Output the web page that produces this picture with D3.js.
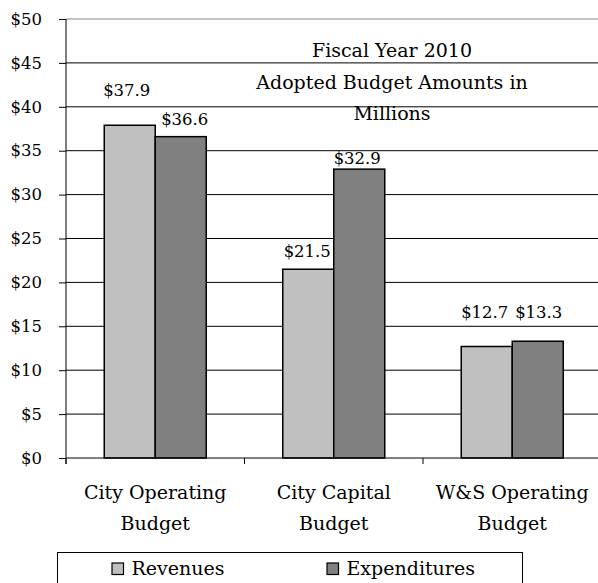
<!DOCTYPE html>
<html>
<head>
<meta charset="utf-8">
<script src="https://cdn.jsdelivr.net/npm/d3@7"></script>
<style>
body { margin: 0; background: #fff; }
text { font-family: 'DejaVu Serif', serif; font-size: 19px; fill: #000; }
text.val, .tick text { font-size: 16.5px; }
</style>
</head>
<body>
<div id="chart"></div>
<script>
var categories = ['City Operating Budget', 'City Capital Budget', 'W&S Operating Budget'];
var categoryLines = [['City Operating', 'Budget'], ['City Capital', 'Budget'], ['W&S Operating', 'Budget']];
var seriesNames = ['Revenues', 'Expenditures'];
var revenues = [37.9, 21.5, 12.7];
var expenditures = [36.6, 32.9, 13.3];
var yTicks = [0, 5, 10, 15, 20, 25, 30, 35, 40, 45, 50];
var titleLines = ['Fiscal Year 2010', 'Adopted Budget Amounts in', 'Millions'];

var colors = ['#c0c0c0', '#808080'];
// label gaps above bar tops (excel shuffled some of them)
var labelGap = [[29, 12], [12, 5], [28, 23]];
var labelShift = [[-3, 4], [-1, -2], [-2, 1]];

var w = 598; var h = 583;
var plotL = 66, plotR = 601.5, plotT = 19, plotB = 458;

var svg = d3.select('#chart')
			.append('svg')
			.attr('width', w)
			.attr('height', h);

var x = d3.scaleBand()
			.domain(categories)
			.range([plotL, plotR]);

var xSub = d3.scaleBand()
			.domain(seriesNames)
			.range([0, x.bandwidth()])
			.paddingInner(0)
			.paddingOuter(0.75);

var y = d3.scaleLinear()
			.domain([0, 50])
			.range([plotB, plotT]);

// gridlines
svg.selectAll('line.grid')
	.data(yTicks.slice(1))
	.enter()
	.append('line')
	.attr('class', 'grid')
	.attr('x1', plotL)
	.attr('x2', plotR)
	.attr('y1', function(d) { return y(d); })
	.attr('y2', function(d) { return y(d); })
	.attr('stroke', function(d) { return d == 50 ? '#888' : '#000'; })
	.attr('stroke-width', 1);

var data = [];
categories.forEach(function(c, i) {
	data.push({cat: c, s: 0, value: revenues[i], i: i});
	data.push({cat: c, s: 1, value: expenditures[i], i: i});
});

svg.selectAll('rect.bar')
	.data(data)
	.enter()
	.append('rect')
	.attr('class', 'bar')
	.attr('x', function(d) { return x(d.cat) + xSub(seriesNames[d.s]); })
	.attr('width', xSub.bandwidth())
	.attr('y', function(d) { return y(d.value); })
	.attr('height', function(d) { return y(0) - y(d.value); })
	.attr('fill', function(d) { return colors[d.s]; })
	.attr('stroke', '#000')
	.attr('stroke-width', 1.5);

svg.selectAll('text.val')
	.data(data)
	.enter()
	.append('text')
	.attr('class', 'val')
	.attr('text-anchor', 'middle')
	.attr('x', function(d) { return x(d.cat) + xSub(seriesNames[d.s]) + xSub.bandwidth() / 2 + labelShift[d.i][d.s]; })
	.attr('y', function(d) { return y(d.value) - labelGap[d.i][d.s]; })
	.text(function(d) { return '$' + d.value.toFixed(1); });

// y axis
var yAxis = d3.axisLeft(y)
			.tickValues(yTicks)
			.tickSize(7)
			.tickPadding(17)
			.tickFormat(function(d) { return '$' + d; });

var gy = svg.append('g')
			.attr('transform', 'translate(' + plotL + ',0)')
			.call(yAxis);
gy.select('.domain').remove();
gy.selectAll('.tick line').attr('stroke', '#000');
gy.selectAll('text').attr('font-family', null).attr('font-size', null);
gy.append('line')
	.attr('x1', 0).attr('x2', 0)
	.attr('y1', plotT).attr('y2', plotB + 6)
	.attr('stroke', '#000');

// x axis
svg.append('line')
	.attr('x1', plotL).attr('x2', plotR)
	.attr('y1', plotB).attr('y2', plotB)
	.attr('stroke', '#000');

var bounds = categories.map(function(c) { return x(c); }).concat([plotR]);
svg.selectAll('line.xtick')
	.data(bounds)
	.enter()
	.append('line')
	.attr('class', 'xtick')
	.attr('x1', function(d) { return d; })
	.attr('x2', function(d) { return d; })
	.attr('y1', plotB)
	.attr('y2', plotB + 6)
	.attr('stroke', '#000');

var cl = svg.selectAll('text.cat')
	.data(categories)
	.enter()
	.append('text')
	.attr('class', 'cat')
	.attr('text-anchor', 'middle')
	.attr('x', function(d) { return x(d) + x.bandwidth() / 2; })
	.attr('y', 499);
cl.selectAll('tspan')
	.data(function(d, i) { return categoryLines[i]; })
	.enter()
	.append('tspan')
	.attr('x', function() { return this.parentNode.getAttribute('x'); })
	.attr('dy', function(d, i) { return i == 0 ? 0 : 31; })
	.text(function(d) { return d; });

// title
svg.selectAll('text.title')
	.data(titleLines)
	.enter()
	.append('text')
	.attr('class', 'title')
	.attr('text-anchor', 'middle')
	.attr('x', 392)
	.attr('y', function(d, i) { return 57 + i * 31.7; })
	.text(function(d) { return d; });

// legend
var legend = svg.append('g');
legend.append('rect')
	.attr('x', 57.5).attr('y', 552.5)
	.attr('width', 465).attr('height', 40)
	.attr('fill', '#fff')
	.attr('stroke', '#000');

var legendX = [112, 327];
seriesNames.forEach(function(s, i) {
	legend.append('rect')
		.attr('x', legendX[i]).attr('y', 563)
		.attr('width', 11.5).attr('height', 11.5)
		.attr('fill', colors[i])
		.attr('stroke', '#000')
		.attr('stroke-width', 1.2);
	legend.append('text')
		.attr('x', legendX[i] + 19.5)
		.attr('y', 575)
		.text(s);
});
</script>
</body>
</html>
